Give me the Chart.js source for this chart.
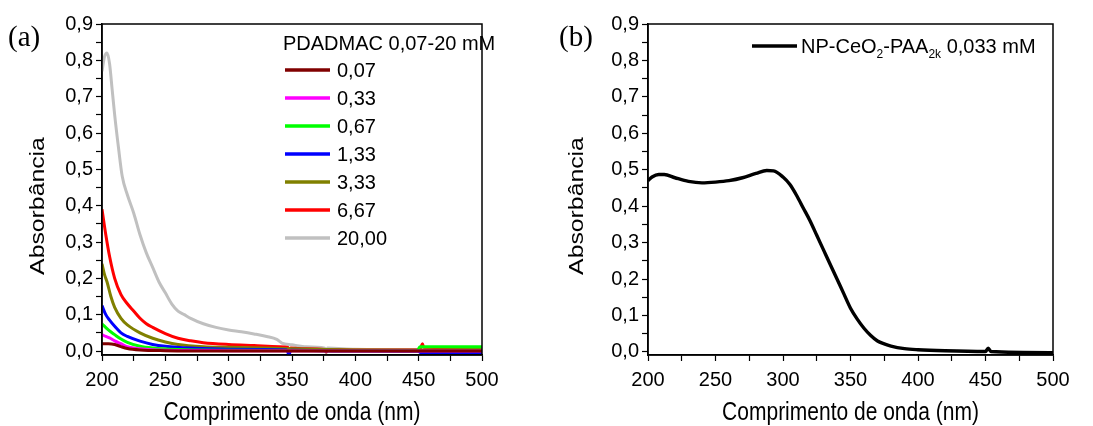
<!DOCTYPE html>
<html>
<head>
<meta charset="utf-8">
<script src="https://cdn.jsdelivr.net/npm/chart.js@4/dist/chart.umd.min.js"></script>
<style>
  body { margin: 0; background: #fff; }
  #wrap { position: relative; width: 1093px; height: 426px; }
  canvas { position: absolute; top: 0; }
  .tag { position: absolute; top: 20px; font: 29px "Liberation Serif", "Times New Roman", serif; color: #000; }
</style>
</head>
<body>
<div id="wrap">
  <canvas id="chartA" width="546" height="426" style="left:0"></canvas>
  <canvas id="chartB" width="547" height="426" style="left:546px"></canvas>
  <div class="tag" style="left:8px">(a)</div>
  <div class="tag" style="left:559px">(b)</div>
</div>
<script>
// axis ticks
const xMajor = [200, 250, 300, 350, 400, 450, 500];
const xMinor = [225, 275, 325, 375, 425, 475];
const yMajor = [0, 0.1, 0.2, 0.3, 0.4, 0.5, 0.6, 0.7, 0.8, 0.9];
const yMinor = [0.05, 0.15, 0.25, 0.35, 0.45, 0.55, 0.65, 0.75, 0.85];
const yLabels = ['0,0', '0,1', '0,2', '0,3', '0,4', '0,5', '0,6', '0,7', '0,8', '0,9'];

// panel (a): PDADMAC concentrations (mM)
const concLabels = ['0,07', '0,33', '0,67', '1,33', '3,33', '6,67', '20,00'];
const concColors = ['#800000', '#ff00ff', '#00ff00', '#0000ff', '#808000', '#ff0000', '#c0c0c0'];

const nm007 = [200, 205, 210, 215, 220, 230, 250, 300, 400, 500];
const abs007 = [0.02, 0.02, 0.018, 0.012, 0.007, 0.003, 0.001, 0.0, 0.0, 0.0];

const nm033 = [200, 203, 206, 210, 215, 220, 230, 250, 300, 400, 500];
const abs033 = [0.045, 0.04, 0.036, 0.028, 0.02, 0.012, 0.006, 0.002, 0.001, 0.0, 0.0];

const nm067 = [200, 205, 210, 215, 220, 230, 240, 260, 300, 400, 449, 451, 500];
const abs067 = [0.075, 0.058, 0.045, 0.033, 0.024, 0.013, 0.008, 0.004, 0.002, 0.001, 0.001, 0.012, 0.012];

const nm133 = [200, 203, 206, 210, 215, 220, 230, 240, 250, 270, 300, 346, 347.5, 349, 400, 450, 451, 500];
const abs133 = [0.125, 0.1, 0.085, 0.068, 0.05, 0.04, 0.027, 0.018, 0.013, 0.008, 0.005, 0.003, -0.01, 0.002, 0.0, -0.001, -0.004, -0.004];

const nm333 = [200, 202, 204, 207, 210, 215, 220, 230, 240, 250, 260, 280, 300, 340, 400, 450, 500];
const abs333 = [0.24, 0.21, 0.19, 0.15, 0.12, 0.09, 0.072, 0.05, 0.035, 0.025, 0.018, 0.012, 0.01, 0.007, 0.003, 0.002, 0.005];

const nm667 = [200, 203, 206, 210, 215, 220, 225, 230, 235, 240, 250, 260, 270, 280, 300, 320, 340, 347, 348, 349, 360, 376, 377, 378, 400, 450, 452, 453, 454, 500];
const abs667 = [0.39, 0.32, 0.26, 0.2, 0.155, 0.13, 0.11, 0.09, 0.075, 0.065, 0.048, 0.035, 0.028, 0.023, 0.018, 0.015, 0.012, 0.01, -0.005, 0.008, 0.006, 0.004, -0.003, 0.004, 0.003, 0.003, 0.012, 0.02, 0.01, 0.009];

const nm2000 = [200, 202, 204, 206, 208, 210, 213, 216, 220, 225, 230, 235, 240, 245, 250, 255, 260, 265, 270, 280, 290, 300, 310, 320, 330, 338, 342, 350, 360, 376, 377, 378, 400, 450, 451, 500];
const abs2000 = [0.77, 0.81, 0.82, 0.79, 0.72, 0.65, 0.56, 0.48, 0.43, 0.38, 0.32, 0.27, 0.23, 0.19, 0.16, 0.13, 0.11, 0.1, 0.09, 0.075, 0.065, 0.058, 0.053, 0.047, 0.04, 0.032, 0.022, 0.017, 0.012, 0.008, -0.005, 0.008, 0.005, 0.004, 0.007, 0.007];

const seriesA = [
  [nm007, abs007], [nm033, abs033], [nm067, abs067], [nm133, abs133],
  [nm333, abs333], [nm667, abs667], [nm2000, abs2000]
];

// panel (b): NP-CeO2-PAA2k 0,033 mM
const nmCeO2 = [200, 203, 208, 212, 220, 230, 240, 250, 260, 270, 280, 288, 293, 300, 305, 310, 315, 320, 325, 330, 335, 340, 345, 350, 355, 360, 365, 370, 375, 380, 390, 400, 420, 450, 452, 454, 500];
const absCeO2 = [0.47, 0.48, 0.487, 0.487, 0.478, 0.468, 0.464, 0.466, 0.47, 0.478, 0.49, 0.498, 0.497, 0.48, 0.46, 0.43, 0.395, 0.36, 0.32, 0.28, 0.24, 0.2, 0.16, 0.12, 0.09, 0.065, 0.045, 0.03, 0.022, 0.016, 0.009, 0.006, 0.003, 0.001, 0.01, 0.001, -0.002];

const FONT = '"Liberation Sans", Arial, sans-serif';

function toPoints(xs, ys) {
  return xs.map((x, i) => ({ x: x, y: ys[i] }));
}

// box around the plot area + the (slightly tall) axis titles
const framePlugin = {
  id: 'frame',
  afterDraw(chart, args, opts) {
    const { ctx, chartArea: a } = chart;
    ctx.save();
    ctx.strokeStyle = '#000';
    ctx.lineWidth = 1.5;
    ctx.strokeRect(a.left, a.top, a.width, a.height);
    ctx.restore();

    ctx.save();
    ctx.font = '21px ' + FONT;
    ctx.fillStyle = '#000';
    ctx.textAlign = 'center';
    ctx.textBaseline = 'alphabetic';
    ctx.translate(opts.titleX, 206);
    ctx.rotate(-Math.PI / 2);
    ctx.scale(1.18, 1);
    ctx.fillText('Absorbância', 0, 0);
    ctx.restore();

    ctx.save();
    ctx.font = '21px ' + FONT;
    ctx.fillStyle = '#000';
    ctx.textAlign = 'center';
    ctx.textBaseline = 'alphabetic';
    ctx.translate((a.left + a.right) / 2, 420);
    ctx.scale(1, 1.2);
    ctx.fillText('Comprimento de onda (nm)', 0, 0);
    ctx.restore();
  }
};

const legendA = {
  id: 'legendA',
  afterDraw(chart) {
    const ctx = chart.ctx;
    ctx.save();
    ctx.font = '20px ' + FONT;
    ctx.fillStyle = '#000';
    ctx.textBaseline = 'middle';
    ctx.fillText('PDADMAC 0,07-20 mM', 283, 44);
    chart.data.datasets.forEach((ds, i) => {
      const y = 70 + 28 * i;
      ctx.strokeStyle = ds.borderColor;
      ctx.lineWidth = 3.5;
      ctx.beginPath();
      ctx.moveTo(285, y);
      ctx.lineTo(330, y);
      ctx.stroke();
      ctx.fillText(ds.label, 337, y + 1);
    });
    ctx.restore();
  }
};

const legendB = {
  id: 'legendB',
  afterDraw(chart) {
    const ctx = chart.ctx;
    const y = 46;
    ctx.save();
    ctx.strokeStyle = '#000';
    ctx.lineWidth = 3.5;
    ctx.beginPath();
    ctx.moveTo(206, y);
    ctx.lineTo(251, y);
    ctx.stroke();
    ctx.fillStyle = '#000';
    ctx.textBaseline = 'alphabetic';
    const base = y + 7;
    let x = 255;
    const parts = [['NP-CeO', 0], ['2', 1], ['-PAA', 0], ['2k', 1], [' 0,033 mM', 0]];
    parts.forEach(([t, sub]) => {
      ctx.font = (sub ? '12px ' : '20px ') + FONT;
      ctx.fillText(t, x, sub ? base + 5 : base);
      x += ctx.measureText(t).width;
    });
    ctx.restore();
  }
};

function makeOptions(yMin, padRight, titleX) {
  return {
    responsive: false,
    animation: false,
    layout: { padding: { left: 0, right: padRight, top: 24, bottom: 0 } },
    plugins: { legend: { display: false }, tooltip: { enabled: false }, frame: { titleX: titleX } },
    elements: { point: { radius: 0 }, line: { borderWidth: 3 } },
    scales: {
      x: {
        type: 'linear', min: 200, max: 500,
        afterBuildTicks: s => { s.ticks = xMajor.concat(xMinor).map(v => ({ value: v })); },
        afterFit: s => { s.height = 71; },
        ticks: {
          autoSkip: false, maxRotation: 0, padding: 7, color: '#000',
          font: { family: FONT, size: 20 },
          callback: v => xMajor.includes(v) ? String(v) : ''
        },
        grid: { drawOnChartArea: false, color: '#000', tickLength: 6, tickWidth: 1.2 },
        border: { color: '#000', width: 1.5 },
        title: { display: false }
      },
      y: {
        type: 'linear', min: yMin, max: 0.9,
        afterBuildTicks: s => { s.ticks = yMajor.concat(yMinor).map(v => ({ value: v })); },
        afterFit: s => { s.width = 102; },
        ticks: {
          autoSkip: false, padding: 3, color: '#000',
          font: { family: FONT, size: 20 },
          callback: v => {
            const i = yMajor.findIndex(m => Math.abs(m - v) < 1e-6);
            return i >= 0 ? yLabels[i] : '';
          }
        },
        grid: { drawOnChartArea: false, color: '#000', tickLength: 6, tickWidth: 1.2 },
        border: { color: '#000', width: 1.5 },
        title: { display: false }
      }
    }
  };
}

new Chart(document.getElementById('chartA'), {
  type: 'line',
  data: {
    datasets: seriesA.map(([xs, ys], i) => ({
      label: concLabels[i],
      data: toPoints(xs, ys),
      borderColor: concColors[i],
      backgroundColor: concColors[i],
      cubicInterpolationMode: 'monotone'
    }))
  },
  options: makeOptions(-0.011, 64, 44),
  plugins: [framePlugin, legendA]
});

new Chart(document.getElementById('chartB'), {
  type: 'line',
  data: {
    datasets: [{
      label: 'NP-CeO2-PAA2k 0,033 mM',
      data: toPoints(nmCeO2, absCeO2),
      borderColor: '#000',
      backgroundColor: '#000',
      borderWidth: 3.4,
      cubicInterpolationMode: 'monotone'
    }]
  },
  options: makeOptions(-0.0085, 40, 37),
  plugins: [framePlugin, legendB]
});
</script>
</body>
</html>
